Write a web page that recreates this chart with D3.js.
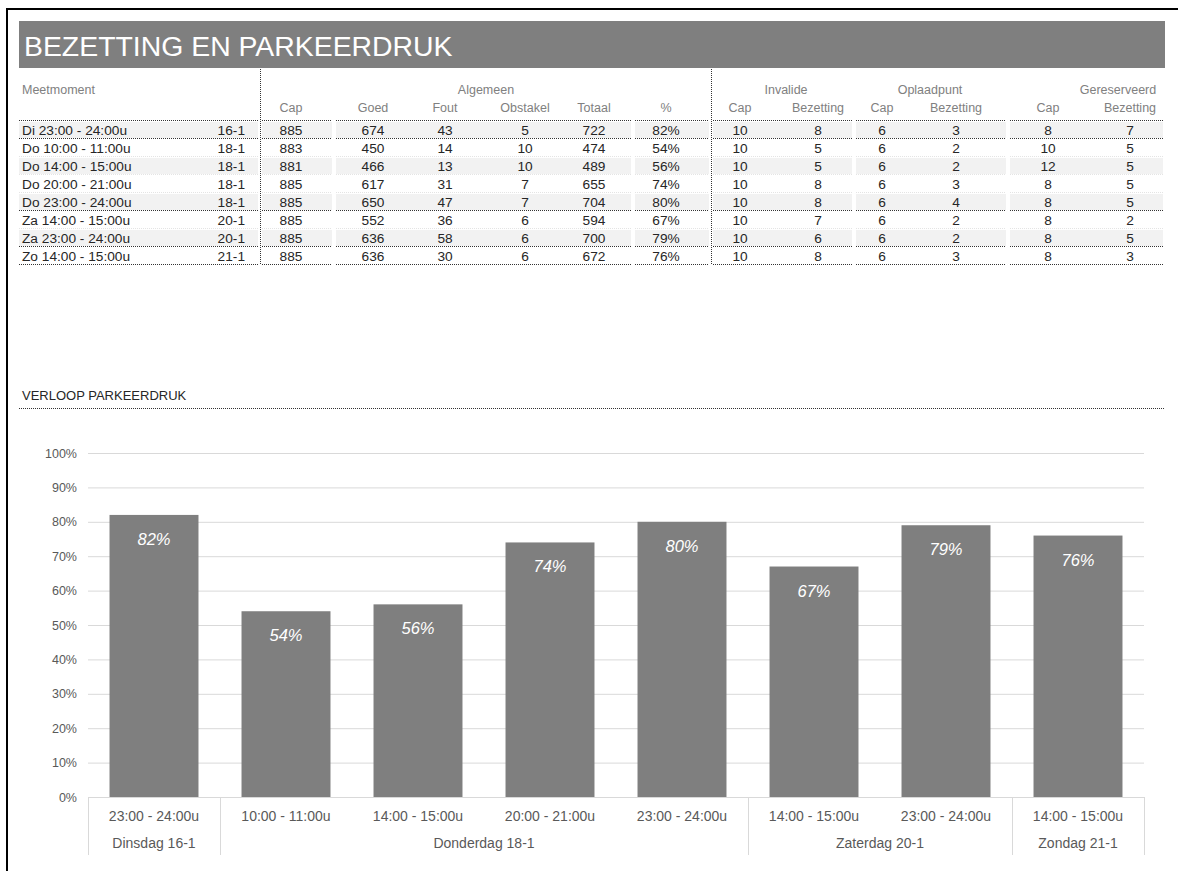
<!DOCTYPE html>
<html>
<head>
<meta charset="utf-8">
<script src="https://cdn.jsdelivr.net/npm/d3@7"></script>
<style>
  html, body { margin: 0; padding: 0; background: #fff; }
  svg { display: block; font-family: "Liberation Sans", Arial, sans-serif; }
</style>
</head>
<body>
<svg id="chart" width="1178" height="871"></svg>
<script>
// ---------- DATA ----------
const rowLabels = ["Di 23:00 - 24:00u", "Do 10:00 - 11:00u", "Do 14:00 - 15:00u", "Do 20:00 - 21:00u",
                   "Do 23:00 - 24:00u", "Za 14:00 - 15:00u", "Za 23:00 - 24:00u", "Zo 14:00 - 15:00u"];
const rowDates  = ["16-1", "18-1", "18-1", "18-1", "18-1", "20-1", "20-1", "21-1"];
const algCap    = [885, 883, 881, 885, 885, 885, 885, 885];
const algGoed   = [674, 450, 466, 617, 650, 552, 636, 636];
const algFout   = [43, 14, 13, 31, 47, 36, 58, 30];
const algObst   = [5, 10, 10, 7, 7, 6, 6, 6];
const algTotaal = [722, 474, 489, 655, 704, 594, 700, 672];
const algPct    = [82, 54, 56, 74, 80, 67, 79, 76];
const invCap    = [10, 10, 10, 10, 10, 10, 10, 10];
const invBez    = [8, 5, 5, 8, 8, 7, 6, 8];
const oplCap    = [6, 6, 6, 6, 6, 6, 6, 6];
const oplBez    = [3, 2, 2, 3, 4, 2, 2, 3];
const gerCap    = [8, 10, 12, 8, 8, 8, 8, 8];
const gerBez    = [7, 5, 5, 5, 5, 2, 5, 3];

const groupHeaders = ["Algemeen", "Invalide", "Oplaadpunt", "Gereserveerd"];
const subHeaders   = ["Cap", "Goed", "Fout", "Obstakel", "Totaal", "%", "Cap", "Bezetting", "Cap", "Bezetting", "Cap", "Bezetting"];

const timeSlots  = ["23:00 - 24:00u", "10:00 - 11:00u", "14:00 - 15:00u", "20:00 - 21:00u",
                    "23:00 - 24:00u", "14:00 - 15:00u", "23:00 - 24:00u", "14:00 - 15:00u"];
const occupancy  = [82, 54, 56, 74, 80, 67, 79, 76];
const dayLabels  = ["Dinsdag 16-1", "Donderdag 18-1", "Zaterdag 20-1", "Zondag 21-1"];
const dayOfSlot  = [0, 1, 1, 1, 1, 2, 2, 3];
const yTicks     = [0, 10, 20, 30, 40, 50, 60, 70, 80, 90, 100];

// ---------- LAYOUT ----------
const svg = d3.select("#chart");
const FONT = "'Liberation Sans', Arial, sans-serif";

// outer frame
svg.append("path").attr("d", "M7,871 V9 H1178").attr("fill", "none").attr("stroke", "#000").attr("stroke-width", 2);

// title bar
svg.append("rect").attr("x", 19).attr("y", 21).attr("width", 1146).attr("height", 47).attr("fill", "#7f7f7f");
svg.append("text").attr("x", 24).attr("y", 56).attr("fill", "#fff").attr("font-size", 28.4)
  .text("BEZETTING EN PARKEERDRUK");

// ---------- TABLE ----------
const colX = [291, 373, 445, 525, 594, 666, 740, 818, 882, 956, 1048, 1130];
const groupX = [486, 786, 930, 1118];
const segs = [[19, 258], [262, 332], [336, 631], [635, 709], [713, 852], [856, 1006], [1010, 1163]];
const rowTop0 = 121, rowH = 18;
const rowY = d3.range(rowLabels.length).map(i => rowTop0 + i * rowH);

// header texts
svg.append("text").attr("x", 22).attr("y", 94).attr("fill", "#808080").attr("font-size", 12.5).text("Meetmoment");
svg.selectAll(".gh").data(groupHeaders).join("text")
  .attr("x", (d, i) => groupX[i]).attr("y", 94).attr("text-anchor", "middle")
  .attr("fill", "#808080").attr("font-size", 12.5).text(d => d);
svg.selectAll(".sh").data(subHeaders).join("text")
  .attr("x", (d, i) => colX[i]).attr("y", 112).attr("text-anchor", "middle")
  .attr("fill", "#808080").attr("font-size", 12.5).text(d => d);

// shading on alternating rows
rowY.forEach((y, i) => {
  if (i % 2 === 0) {
    segs.forEach(s => {
      svg.append("rect").attr("x", s[0]).attr("y", y + 1).attr("width", s[1] - s[0]).attr("height", rowH - 2)
        .attr("fill", "#f2f2f2");
    });
  }
});

// dotted horizontal rules
function hRule(y, color) {
  segs.forEach(s => {
    svg.append("line").attr("x1", s[0]).attr("x2", s[1]).attr("y1", y + 0.5).attr("y2", y + 0.5)
      .attr("stroke", color).attr("stroke-width", 1).attr("stroke-dasharray", "1,1");
  });
}
hRule(rowTop0 - 1, "#333");
const strongAfter = [0, 4, 6, 7];
rowY.forEach((y, i) => {
  hRule(y + rowH - 1, strongAfter.includes(i) ? "#333" : "#e4e4e4");
});

// vertical dotted separators
[260, 711].forEach(x => {
  svg.append("line").attr("x1", x + 0.5).attr("x2", x + 0.5).attr("y1", 69).attr("y2", rowTop0 + rowH * 8)
    .attr("stroke", "#333").attr("stroke-dasharray", "1,1");
});

// row contents
const columns = [algCap, algGoed, algFout, algObst, algTotaal, algPct.map(v => v + "%"),
                 invCap, invBez, oplCap, oplBez, gerCap, gerBez];
const tbl = svg.append("g").attr("font-size", 13.7).attr("fill", "#262626");
rowY.forEach((y, i) => {
  tbl.append("text").attr("x", 22).attr("y", y + 14).text(rowLabels[i]);
  tbl.append("text").attr("x", 245).attr("y", y + 14).attr("text-anchor", "end").text(rowDates[i]);
  columns.forEach((col, c) => {
    tbl.append("text").attr("x", colX[c]).attr("y", y + 14).attr("text-anchor", "middle").text(col[i]);
  });
});

// ---------- CHART ----------
svg.append("text").attr("x", 22).attr("y", 400).attr("fill", "#262626").attr("font-size", 13)
  .text("VERLOOP PARKEERDRUK");
svg.append("line").attr("x1", 19).attr("x2", 1165).attr("y1", 408.5).attr("y2", 408.5)
  .attr("stroke", "#333").attr("stroke-dasharray", "1,1");

const plotL = 88, plotR = 1144, plotT = 453, plotB = 797;
const x = d3.scaleBand().domain(d3.range(occupancy.length)).range([plotL, plotR])
  .paddingInner(0.326).paddingOuter(0.163);
const y = d3.scaleLinear().domain([0, 100]).range([plotB, plotT]);

// gridlines + y axis labels
const yAxis = d3.axisLeft(y).tickValues(yTicks).tickFormat(d => d + "%").tickSize(-(plotR - plotL)).tickPadding(11);
const yg = svg.append("g").attr("transform", `translate(${plotL},0)`).call(yAxis);
yg.select(".domain").remove();
yg.selectAll(".tick line").attr("stroke", "#d9d9d9");
yg.selectAll(".tick text").attr("fill", "#595959").attr("font-size", 12.5).attr("font-family", FONT);

// bars
svg.append("g").selectAll("rect").data(occupancy).join("rect")
  .attr("x", (d, i) => x(i)).attr("width", x.bandwidth())
  .attr("y", d => y(d)).attr("height", d => plotB - y(d))
  .attr("fill", "#7f7f7f");

// bar labels
svg.append("g").selectAll("text").data(occupancy).join("text")
  .attr("x", (d, i) => x(i) + x.bandwidth() / 2).attr("y", d => y(d) + 30)
  .attr("text-anchor", "middle").attr("fill", "#fff").attr("font-size", 16.5).attr("font-style", "italic")
  .text(d => d + "%");

// x axis baseline
svg.append("line").attr("x1", plotL).attr("x2", plotR).attr("y1", plotB + 0.5).attr("y2", plotB + 0.5)
  .attr("stroke", "#d9d9d9");

// time slot labels
svg.append("g").selectAll("text").data(timeSlots).join("text")
  .attr("x", (d, i) => x(i) + x.bandwidth() / 2).attr("y", 821)
  .attr("text-anchor", "middle").attr("fill", "#595959").attr("font-size", 14)
  .text(d => d);

// day groups
const step = x.step();
const groups = dayLabels.map((lab, g) => {
  const idx = dayOfSlot.map((d, i) => d === g ? i : -1).filter(i => i >= 0);
  const x0 = x(idx[0]) - step * x.paddingInner() / 2;
  const x1 = x(idx[idx.length - 1]) + x.bandwidth() + step * x.paddingInner() / 2;
  return { lab, x0, x1 };
});
groups.forEach((g, gi) => {
  svg.append("line").attr("x1", Math.round(g.x0) + 0.5).attr("x2", Math.round(g.x0) + 0.5)
    .attr("y1", plotB).attr("y2", 855).attr("stroke", "#d9d9d9");
  if (gi === groups.length - 1) {
    svg.append("line").attr("x1", Math.round(g.x1) + 0.5).attr("x2", Math.round(g.x1) + 0.5)
      .attr("y1", plotB).attr("y2", 855).attr("stroke", "#d9d9d9");
  }
  svg.append("text").attr("x", (g.x0 + g.x1) / 2).attr("y", 848).attr("text-anchor", "middle")
    .attr("fill", "#595959").attr("font-size", 14).text(g.lab);
});
</script>
</body>
</html>
